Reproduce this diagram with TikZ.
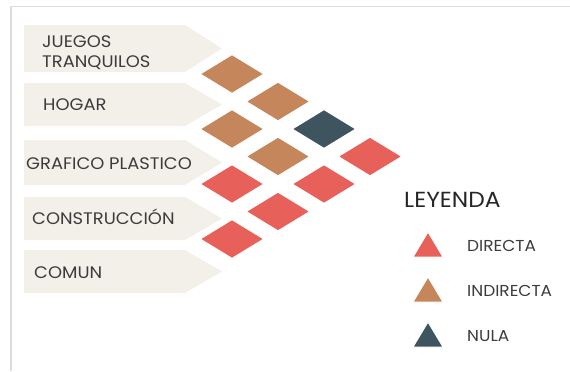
\documentclass[tikz,border=0pt]{standalone}
\usepackage{fontspec}
\setmainfont{Poppins}[FakeStretch=1.07]
\definecolor{cred}{HTML}{E8605A}
\definecolor{cbrown}{HTML}{C4865A}
\definecolor{cslate}{HTML}{3E5560}
\definecolor{cbar}{HTML}{F3F0EA}
\definecolor{ctext}{HTML}{3C3C3C}
\definecolor{cframe}{HTML}{DDDDDD}
\newcommand\labelbar[2]{%
  \fill[cbar] (24,#1) -- (185,#1) -- (222,{(#1+#2)/2}) -- (185,#2) -- (24,#2) -- cycle;}
\newcommand\rhomb[3]{%
  \filldraw[fill=#3, draw=white, line width=1.2bp]
    ({#1-32},#2) -- (#1,{#2-19.5}) -- ({#1+32},#2) -- (#1,{#2+19.5}) -- cycle;}
\newcommand\legtri[2]{%
  \filldraw[fill=#2, draw=white, line width=1bp] (413,{#1+25}) -- (428,#1) -- (443,{#1+25}) -- cycle;}
\begin{document}
\begin{tikzpicture}[x=1bp,y=-1bp,
  lbl/.style={anchor=base west, inner sep=0pt, text=ctext, font=\fontsize{16.8}{21}\selectfont},
  leg/.style={anchor=base west, inner sep=0pt, text=ctext, font=\fontsize{15.9}{18}\selectfont}]
\useasboundingbox (0,0) rectangle (570,371);
\draw[cframe, line width=1.5bp] (11,371) -- (11,6.5) -- (570,6.5);
% bars
\labelbar{25}{72}
\labelbar{83}{126}
\labelbar{140}{185}
\labelbar{197}{240}
\labelbar{250}{293}
% labels
\node[lbl, align=left, anchor=north west] (juegos) at (42,35) {JUEGOS\\TRANQUILOS};
\node[lbl] (hogar) at (43,110) {HOGAR};
\node[lbl] (grafico) at (26,169) {GRAFICO PLASTICO};
\node[lbl] (constr) at (32,224) {CONSTRUCCIÓN};
\node[lbl] (comun) at (34,278) {COMUN};
% diamonds: x = 232 + 46 i, y = 74 + 27.5 i + 55 j
\rhomb{232}{74}{cbrown}
\rhomb{278}{101.5}{cbrown}
\rhomb{324}{129}{cslate}
\rhomb{370}{156.5}{cred}
\rhomb{232}{129}{cbrown}
\rhomb{278}{156.5}{cbrown}
\rhomb{324}{184}{cred}
\rhomb{232}{184}{cred}
\rhomb{278}{211.5}{cred}
\rhomb{232}{239}{cred}
% legend
\node[anchor=base west, inner sep=0pt, text=black!85, font=\fontsize{21.9}{24}\selectfont] (leyenda) at (404,207) {LEYENDA};
\legtri{232}{cred}
\legtri{277}{cbrown}
\legtri{322}{cslate}
\node[leg] (directa) at (467,251.5) {DIRECTA};
\node[leg] (indirecta) at (467,296.5) {INDIRECTA};
\node[leg] (nula) at (467,341.5) {NULA};
\end{tikzpicture}
\end{document}
